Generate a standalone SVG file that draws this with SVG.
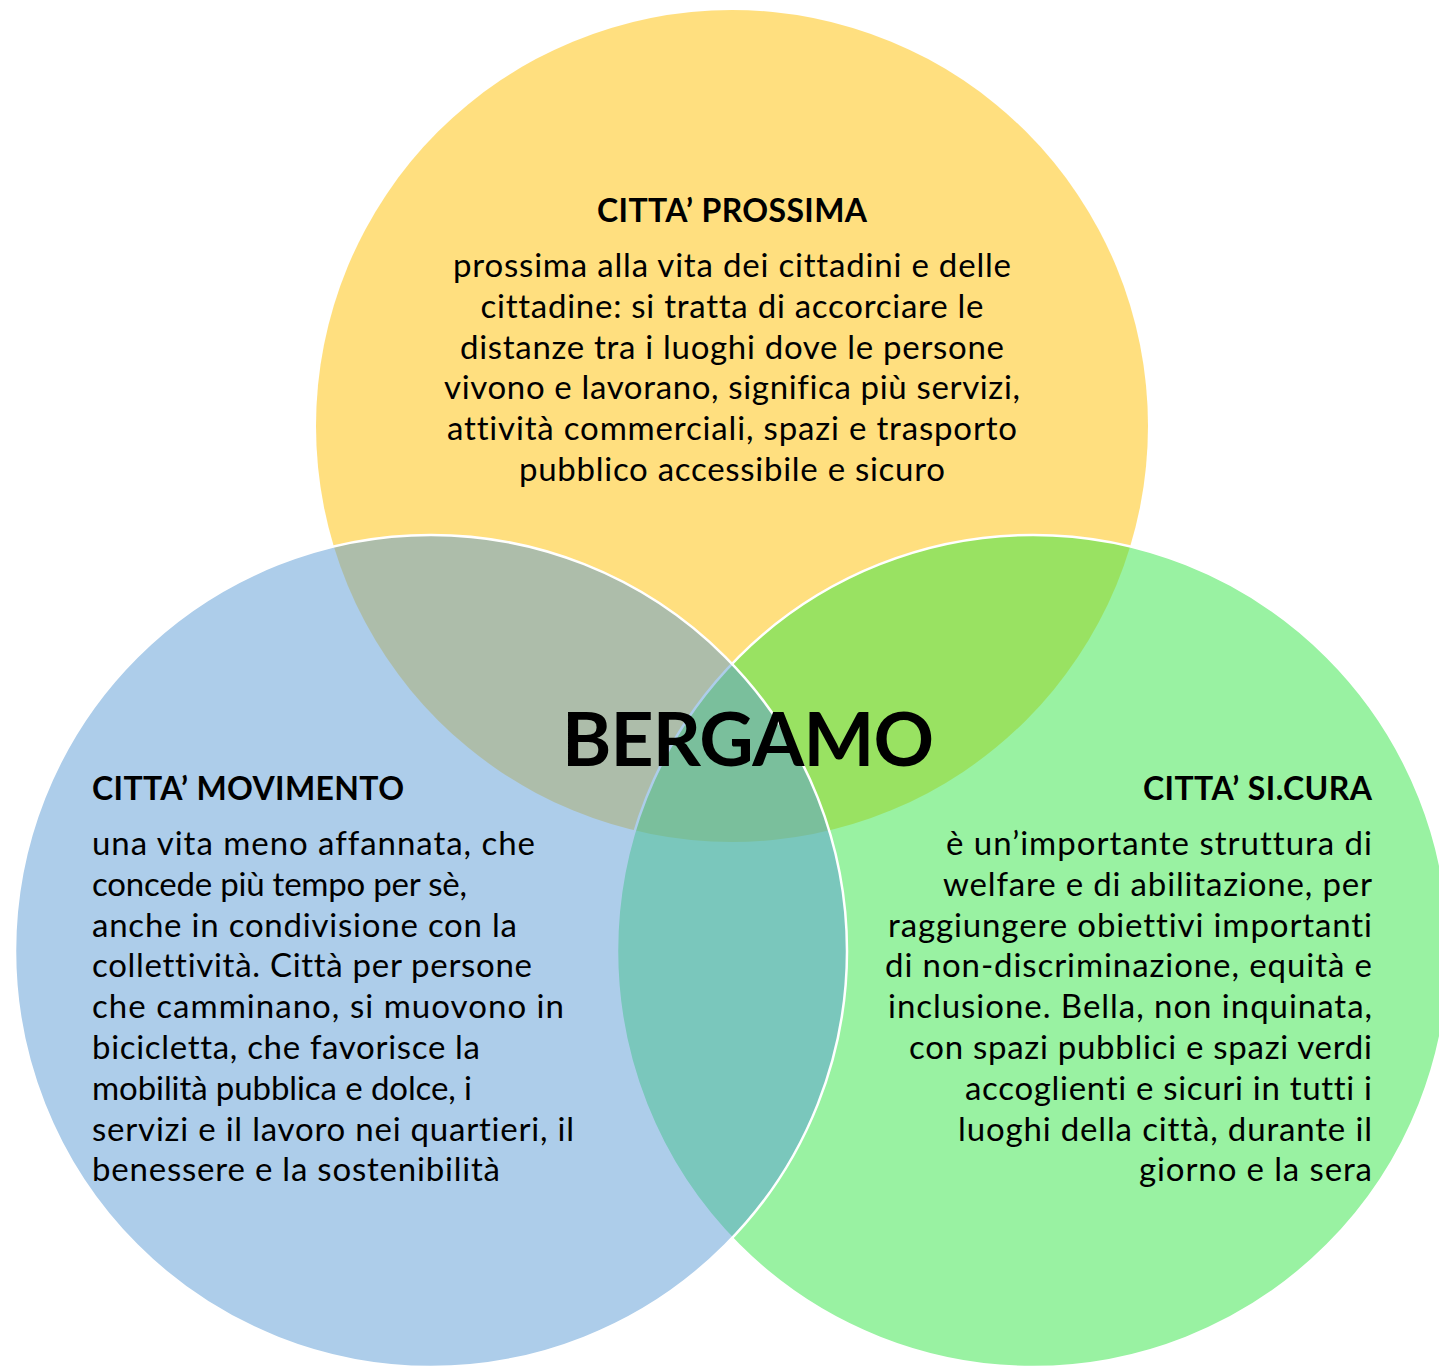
<svg xmlns="http://www.w3.org/2000/svg" width="1439" height="1367" viewBox="0 0 1439 1367">
  <style>
    .set { stroke: none; }
    .ring { stroke: #ffffff; stroke-width: 2.5; }
    text { font-family: Lato, "Open Sans", "Liberation Sans", sans-serif; fill: #000000; font-variant-ligatures: none; font-feature-settings: "liga" 0, "clig" 0; }
    .title { font-size: 32px; font-weight: 700; }
    .body { font-size: 33px; font-weight: 400; }
    .hub { font-size: 75px; font-weight: 700; }
    .mid { text-anchor: middle; }
    .end { text-anchor: end; }
  </style>
  <rect width="1439" height="1367" fill="#ffffff"/>

  <!-- three overlapping sets, semi-transparent fills -->
  <g id="circles">
    <circle id="set-prossima" class="set" cx="732" cy="426" r="416" fill="#FFC000" fill-opacity="0.5"/>
    <circle id="set-sicura" class="ring" cx="1033" cy="951" r="416" fill="#33E545" fill-opacity="0.5"/>
    <circle id="set-movimento" class="ring" cx="431" cy="951" r="416" fill="#5B9BD5" fill-opacity="0.5"/>
  </g>

  <g id="connectors"></g>

  <g id="node-prossima">
    <text class="title mid" x="732" y="222" textLength="270">CITTA’ PROSSIMA</text>
    <text class="body mid" x="732" y="277" textLength="558">prossima alla vita dei cittadini e delle</text>
    <text class="body mid" x="732" y="317.8" textLength="503">cittadine: si tratta di accorciare le</text>
    <text class="body mid" x="732" y="358.6" textLength="544">distanze tra i luoghi dove le persone</text>
    <text class="body mid" x="732" y="399.4" textLength="576">vivono e lavorano, significa più servizi,</text>
    <text class="body mid" x="732" y="440.2" textLength="570">attività commerciali, spazi e trasporto</text>
    <text class="body mid" x="732" y="481" textLength="426">pubblico accessibile e sicuro</text>
  </g>

  <g id="node-movimento">
    <text class="title" x="92" y="800" textLength="312">CITTA’ MOVIMENTO</text>
    <text class="body" x="92" y="855" textLength="443">una vita meno affannata, che</text>
    <text class="body" x="92" y="895.8" textLength="375">concede più tempo per sè,</text>
    <text class="body" x="92" y="936.6" textLength="425">anche in condivisione con la</text>
    <text class="body" x="92" y="977.4" textLength="440">collettività. Città per persone</text>
    <text class="body" x="92" y="1018.2" textLength="472">che camminano, si muovono in</text>
    <text class="body" x="92" y="1059" textLength="388">bicicletta, che favorisce la</text>
    <text class="body" x="92" y="1099.8" textLength="380">mobilità pubblica e dolce, i</text>
    <text class="body" x="92" y="1140.6" textLength="482">servizi e il lavoro nei quartieri, il</text>
    <text class="body" x="92" y="1181.4" textLength="408">benessere e la sostenibilità</text>
  </g>

  <g id="node-sicura">
    <text class="title end" x="1372" y="800" textLength="229">CITTA’ SI.CURA</text>
    <text class="body end" x="1372" y="855" textLength="426">è un’importante struttura di</text>
    <text class="body end" x="1372" y="895.8" textLength="429">welfare e di abilitazione, per</text>
    <text class="body end" x="1372" y="936.6" textLength="484">raggiungere obiettivi importanti</text>
    <text class="body end" x="1372" y="977.4" textLength="487">di non-discriminazione, equità e</text>
    <text class="body end" x="1372" y="1018.2" textLength="484">inclusione. Bella, non inquinata,</text>
    <text class="body end" x="1372" y="1059" textLength="463">con spazi pubblici e spazi verdi</text>
    <text class="body end" x="1372" y="1099.8" textLength="407">accoglienti e sicuri in tutti i</text>
    <text class="body end" x="1372" y="1140.6" textLength="414">luoghi della città, durante il</text>
    <text class="body end" x="1372" y="1181.4" textLength="233">giorno e la sera</text>
  </g>

  <g id="node-bergamo">
    <text class="hub mid" x="748" y="766" textLength="372">BERGAMO</text>
  </g>
</svg>
